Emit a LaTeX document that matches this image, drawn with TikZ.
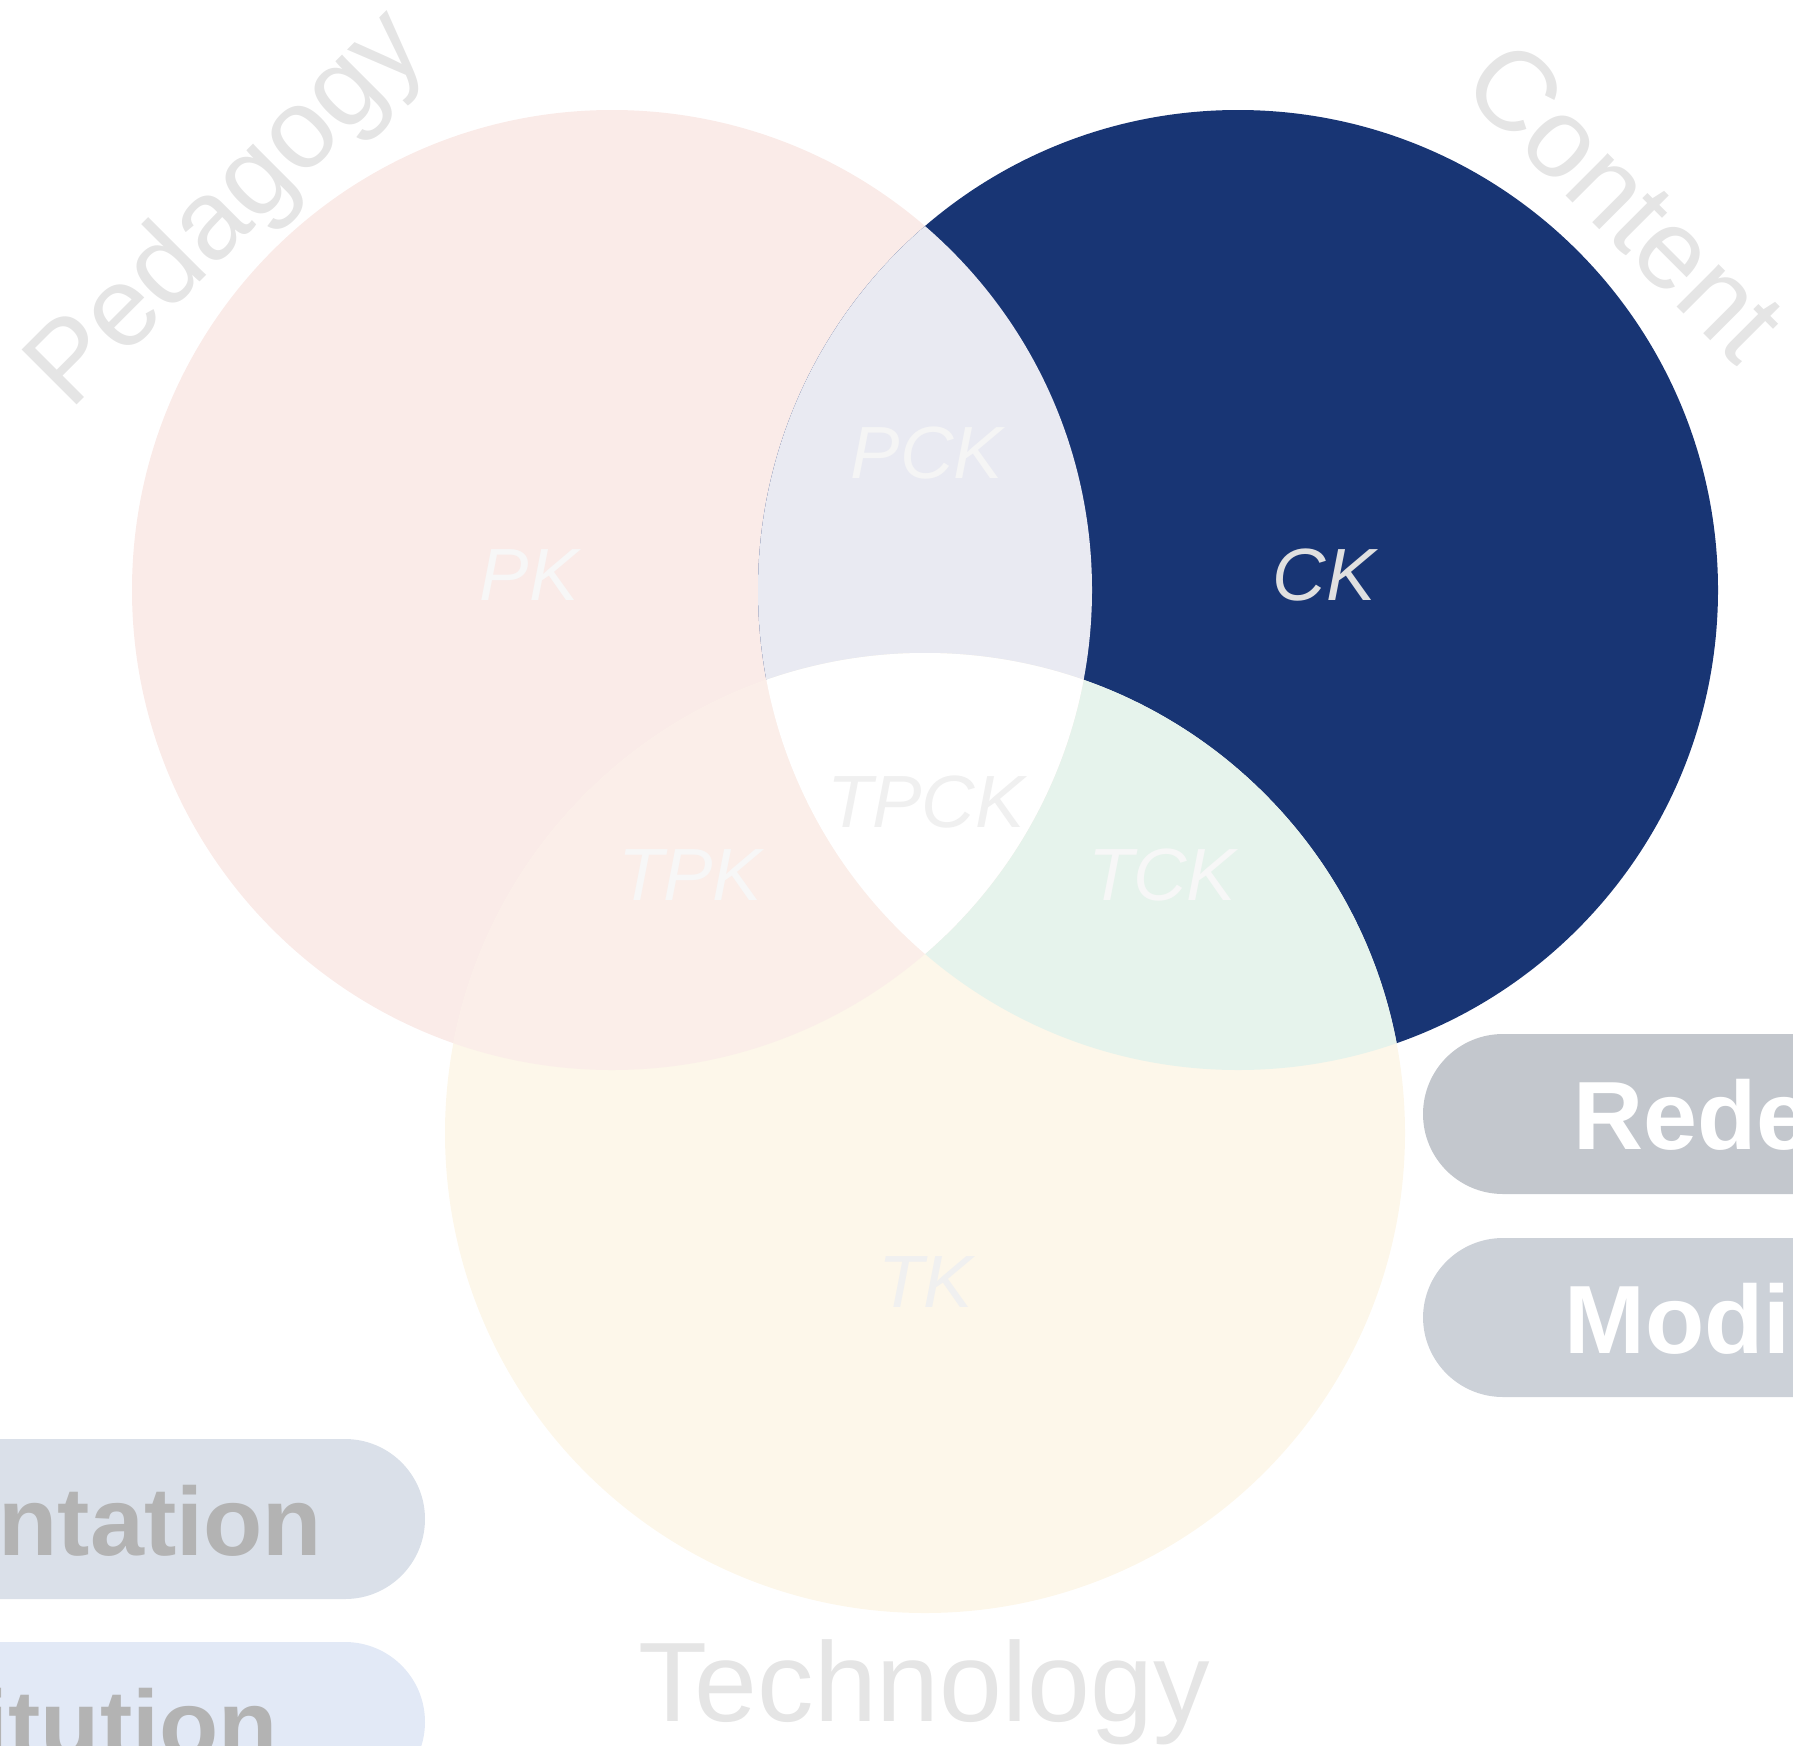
\documentclass[tikz,border=0pt]{standalone}
\usepackage{fontspec}
\setmainfont{Liberation Sans}
\definecolor{pedpink}{HTML}{FAEBE8}
\definecolor{tpkpink}{HTML}{FBEEE9}
\definecolor{connavy}{HTML}{183574}
\definecolor{techcream}{HTML}{FDF7EA}
\definecolor{pcklav}{HTML}{E9EAF2}
\definecolor{tckmint}{HTML}{E6F3EC}
\definecolor{biglabel}{HTML}{E5E5E5}
\definecolor{pillA}{HTML}{C3C7CD}
\definecolor{pillB}{HTML}{CCD1D8}
\definecolor{pillC}{HTML}{DAE0E9}
\definecolor{pillD}{HTML}{E2E9F6}
\definecolor{pilltxtgrey}{HTML}{B3B3B3}
\tikzset{
  bigtitle/.style={inner sep=0pt, anchor=base, text=biglabel, font=\fontsize{113}{120}\selectfont},
  region/.style={inner sep=0pt, anchor=base, font=\fontsize{74}{80}\selectfont\itshape},
  pilltext/.style={inner sep=0pt, font=\fontsize{97}{100}\selectfont\bfseries},
  pill/.style={rounded corners=80pt}
}
\begin{document}
\begin{tikzpicture}[x=1pt,y=-1pt]
\useasboundingbox (0,0) rectangle (1793,1745);
\clip (0,0) rectangle (1793,1745);
\def\Pcirc{(612,590) circle[radius=480pt]}
\def\Ccirc{(1238,590) circle[radius=480pt]}
\def\Tcirc{(925,1133) circle[radius=480pt]}
% base circles
\fill[pedpink] \Pcirc;
\fill[connavy] \Ccirc;
\fill[techcream] \Tcirc;
% P and C
\begin{scope}\clip \Pcirc; \fill[pcklav] \Ccirc; \end{scope}
% C and T
\begin{scope}\clip \Ccirc; \fill[tckmint] \Tcirc; \end{scope}
% P and T
\begin{scope}\clip \Pcirc; \fill[tpkpink] \Tcirc; \end{scope}
% P, C and T
\begin{scope}\clip \Pcirc; \clip \Ccirc; \fill[white] \Tcirc; \end{scope}
% region labels
\node[region, text=white!97!black] (pk) at (529,600) {PK};
\node[region, text=white!96!black] (pck) at (927,478) {PCK};
\node[region, text=white!88!black] (ck) at (1324,600) {CK};
\node[region, text=white!94!black] (tpck) at (926,827) {TPCK};
\node[region, text=white!97!black] (tpk) at (690,900) {TPK};
\node[region, text=white!97!black] (tck) at (1162,900) {TCK};
\node[region, text=white!94!black] (tk) at (926,1307) {TK};
% big titles
\node[bigtitle, rotate=45] (ped) at (250,232) {Pedagogy};
\node[bigtitle, rotate=-45] (con) at (1598,228) {Content};
\node[bigtitle] (tech) at (924,1721) {Technology};
% pills
\fill[pill, pillA] (1423,1034) rectangle (1950,1194);
\fill[pill, pillB] (1423,1238) rectangle (1950,1397);
\fill[pill, pillC] (-150,1439) rectangle (425,1599);
\fill[pill, pillD] (-150,1642) rectangle (425,1802);
\node[pilltext, text=white, anchor=base west] (rede) at (1573,1149) {Rede};
\node[pilltext, text=white, anchor=base west] (modi) at (1564,1353) {Modi};
\node[pilltext, text=pilltxtgrey, anchor=base east] (ntat) at (322,1555) {ntation};
\node[pilltext, text=pilltxtgrey, anchor=base east] (itut) at (278,1758) {itution};
\end{tikzpicture}
\end{document}
